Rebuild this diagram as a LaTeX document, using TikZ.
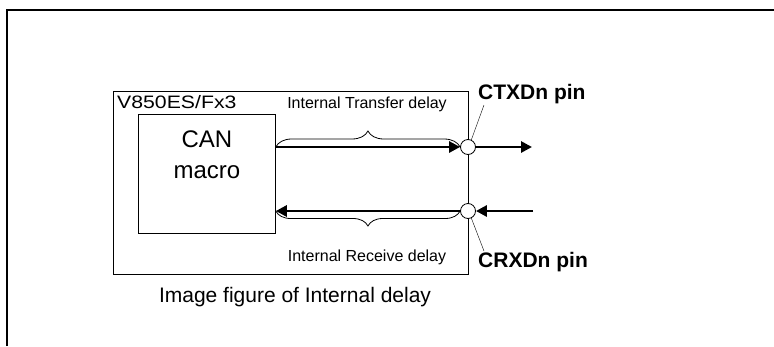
\documentclass[tikz,border=0pt]{standalone}
\usepackage{fontspec}
\setmainfont{Liberation Sans}
\newfontfamily\chipfont[FakeStretch=1.18]{Liberation Sans}
\usetikzlibrary{arrows.meta,positioning,decorations.pathreplacing}
\tikzset{
    sig/.style={line width=2.8pt,-{Triangle[length=11pt,width=11pt]}},
    delaybrace/.style={line width=0.8pt,decorate,decoration={brace,amplitude=#1}},
    pin/.style={circle,draw,thick,fill=white,inner sep=0pt,minimum size=15pt},
    pinlabel/.style={font=\fontsize{21}{25}\selectfont\bfseries,anchor=base west,inner sep=0pt},
    smalllabel/.style={font=\fontsize{16}{19}\selectfont,anchor=base,inner sep=0pt}
}
\begin{document}
\begin{tikzpicture}[x=1pt,y=-1pt]
    \useasboundingbox (0,0) rectangle (774,346);
    %% page frame
    \draw[line width=1.5pt] (7,346) -- (7,10) -- (774,10);
    %% chip and macro
    \node[draw,thick,anchor=north west,minimum width=355pt,minimum height=183pt] (chip) at (113,91) {};
    \node[font=\chipfont\fontsize{18}{22}\selectfont,anchor=base west,inner sep=0pt] (chipname) at (117,108) {V850ES/Fx3};
    \node[draw,thick,anchor=north west,minimum width=137pt,minimum height=119pt] (can) at (138,114) {};
    \node[font=\fontsize{24}{31}\selectfont,align=center,below=17pt of can.north,inner sep=0pt] (cantext) {CAN\\macro};
    %% pins
    \coordinate (ctxtip) at (484,105);
    \coordinate (crxtip) at (484,251);
    \node[pin] (ctx) at (468,147) {};
    \node[pin] (crx) at (468,211) {};
    \draw (ctx.65) -- (ctxtip);
    \draw (crx.-65) -- (crxtip);
    \node[pinlabel] (ctxlabel) at (478,99) {CTXDn pin};
    \node[pinlabel] (crxlabel) at (478,267) {CRXDn pin};
    %% signals
    \coordinate (txout) at (532,147);
    \coordinate (rxin) at (533,211);
    \draw[sig] (can.east |- ctx) -- (ctx.west);
    \draw[sig] (ctx.east) -- (txout);
    \draw[sig] (crx.west) -- (can.east |- crx);
    \draw[sig] (rxin) -- (crx.east);
    %% delays
    \draw[delaybrace=16pt] (can.east |- ctx) -- (ctx.west);
    \draw[delaybrace=15pt] (crx.west) -- (can.east |- crx);
    \node[smalllabel] (txdelay) at (367,108) {Internal Transfer delay};
    \node[smalllabel] (rxdelay) at (367,261) {Internal Receive delay};
    %% caption
    \node[font=\fontsize{21}{25}\selectfont,anchor=base,inner sep=0pt] (caption) at (295,302) {Image figure of Internal delay};
\end{tikzpicture}
\end{document}
